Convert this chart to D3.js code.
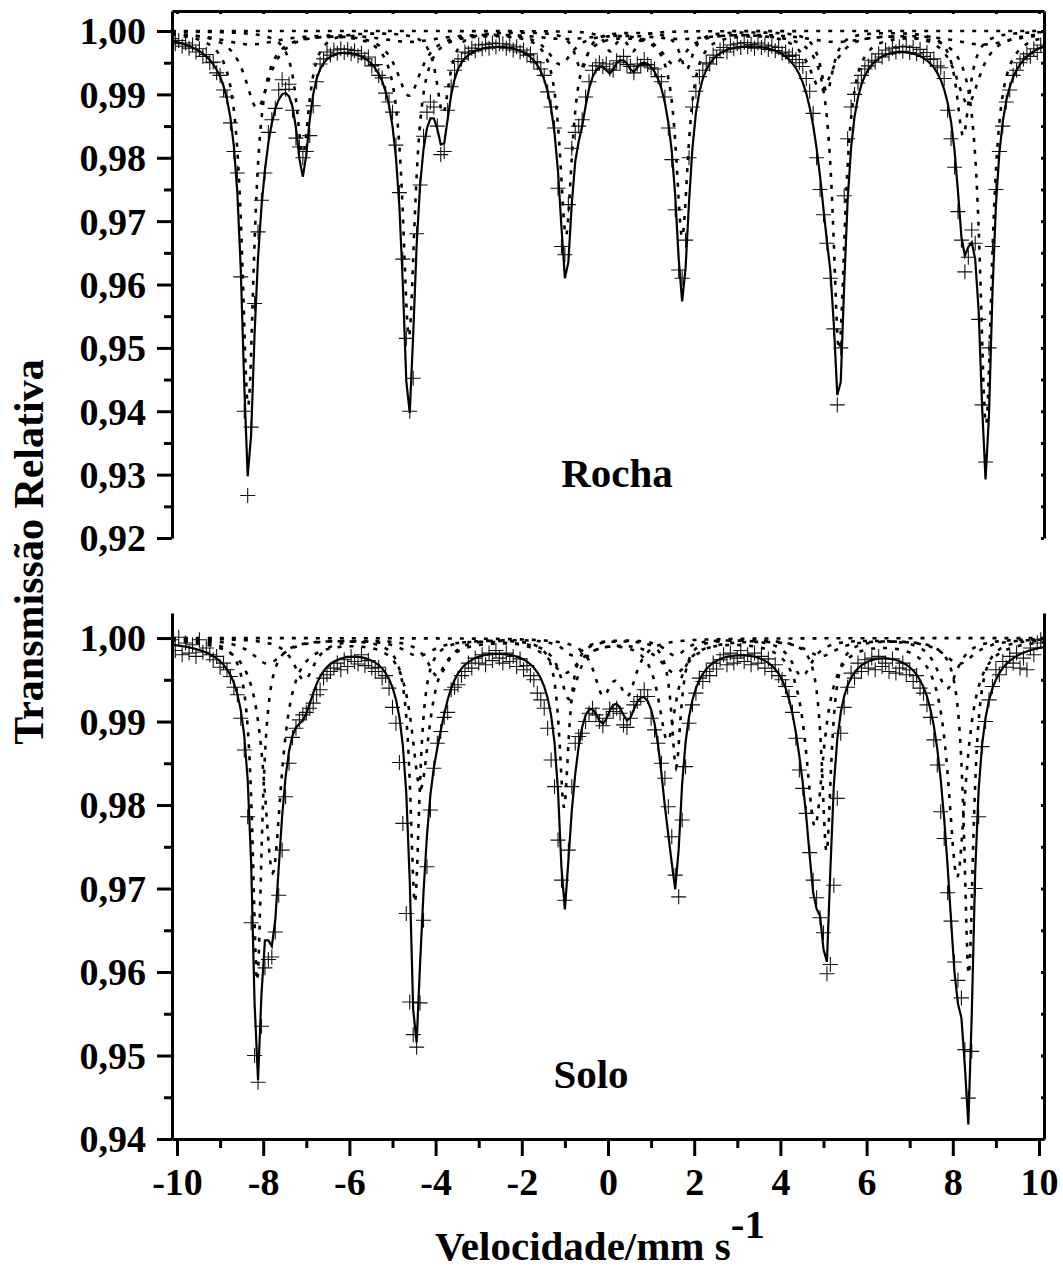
<!DOCTYPE html>
<html><head><meta charset="utf-8">
<script src="https://cdn.jsdelivr.net/npm/d3@7"></script>
<style>body{margin:0;background:#fff}</style>
</head><body>
<svg id="chart" width="1063" height="1270"></svg>
<script>
// ---------------- data ----------------
const velocityTicks = [-10,-8,-6,-4,-2,0,2,4,6,8,10];
const velocityMinorTicks = [-9,-7,-5,-3,-1,1,3,5,7,9];
const rochaTicks = [1.00,0.99,0.98,0.97,0.96,0.95,0.94,0.93,0.92];
const rochaMinorTicks = [0.995,0.985,0.975,0.965,0.955,0.945,0.935,0.925];
const soloTicks = [1.00,0.99,0.98,0.97,0.96,0.95,0.94];
const soloMinorTicks = [0.995,0.985,0.975,0.965,0.955,0.945];

// velocity channels of the spectrometer (mm/s): first channel and channel width
const channelStart = -10.12;
const channelWidth = 0.08;

// measured relative transmission, one value per channel
const rochaCounts = [
.9988,.9980,.9985,.9976,.9981,.9973,.9978,.9967,.9972,.9960,.9963,.9950,.9951,.9934,.9930,.9907,.9896,.9855,.9810,.9776,.9612,.9400,.9267,.9375,.9570,.9683,.9733,.9776,.9840,.9860,.9878,.9907,
.9923,.9908,.9916,.9875,.9831,.9817,.9800,.9810,.9835,.9882,.9920,.9948,.9956,.9967,.9962,.9970,.9965,.9972,.9966,.9971,.9964,.9969,.9961,.9965,.9956,.9959,.9945,.9947,.9930,.9926,.9902,.9888,
.9872,.9820,.9745,.9640,.9515,.9400,.9452,.9680,.9757,.9834,.9872,.9888,.9880,.9850,.9805,.9810,.9875,.9912,.9938,.9952,.9956,.9967,.9965,.9973,.9969,.9978,.9972,.9979,.9973,.9981,.9975,.9980,
.9980,.9973,.9978,.9970,.9975,.9967,.9970,.9962,.9964,.9952,.9950,.9940,.9930,.9904,.9880,.9847,.9752,.9660,.9647,.9726,.9815,.9840,.9850,.9860,.9896,.9920,.9938,.9945,.9950,.9944,.9948,.9940,
.9938,.9953,.9950,.9960,.9947,.9944,.9934,.9948,.9945,.9955,.9947,.9942,.9940,.9928,.9920,.9896,.9847,.9797,.9718,.9623,.9610,.9670,.9800,.9880,.9905,.9928,.9938,.9950,.9948,.9962,.9958,.9970,
.9974,.9967,.9978,.9972,.9980,.9974,.9982,.9975,.9979,.9973,.9981,.9974,.9978,.9971,.9976,.9969,.9974,.9965,.9967,.9960,.9962,.9955,.9950,.9944,.9925,.9905,.9870,.9800,.9750,.9710,.9665,.9610,
.9530,.9410,.9500,.9740,.9830,.9880,.9900,.9918,.9930,.9940,.9945,.9954,.9951,.9964,.9959,.9970,.9964,.9973,.9967,.9975,.9968,.9976,.9966,.9974,.9964,.9971,.9960,.9966,.9955,.9956,.9945,.9942,
.9925,.9875,.9830,.9785,.9715,.9670,.9620,.9643,.9686,.9665,.9545,.9410,.9320,.9500,.9660,.9750,.9810,.9850,.9888,.9907,.9930,.9938,.9950,.9956,.9964,.9960,.9972,.9966,.9978,.9973
];
const soloCounts = [
.9998,.9985,1.0001,.9980,.9994,.9982,.9992,.9978,.9998,.9983,.9988,.9980,.9974,.9978,.9965,.9970,.9962,.9954,.9941,.9932,.9904,.9866,.9786,.9659,.9500,.9468,.9535,.9605,.9615,.9618,.9648,.9692,
.9746,.9810,.9850,.9881,.9892,.9902,.9908,.9911,.9916,.9922,.9932,.9938,.9952,.9956,.9960,.9964,.9970,.9962,.9974,.9966,.9978,.9972,.9969,.9980,.9967,.9973,.9964,.9960,.9965,.9952,.9955,.9940,
.9917,.9898,.9851,.9778,.9670,.9564,.9525,.9510,.9563,.9662,.9726,.9794,.9844,.9874,.9888,.9905,.9911,.9938,.9941,.9944,.9955,.9960,.9970,.9964,.9976,.9970,.9980,.9968,.9982,.9973,.9985,.9976,
.9970,.9982,.9972,.9978,.9966,.9975,.9962,.9967,.9955,.9950,.9934,.9926,.9916,.9892,.9854,.9822,.9758,.9710,.9686,.9746,.9822,.9874,.9882,.9886,.9900,.9910,.9916,.9908,.9900,.9895,.9904,.9915,
.9912,.9916,.9910,.9896,.9893,.9904,.9920,.9924,.9930,.9938,.9930,.9904,.9890,.9874,.9850,.9832,.9798,.9762,.9716,.9690,.9782,.9846,.9898,.9920,.9934,.9952,.9948,.9960,.9955,.9970,.9963,.9974,
.9980,.9968,.9982,.9970,.9976,.9985,.9972,.9980,.9968,.9982,.9970,.9978,.9964,.9975,.9960,.9968,.9955,.9950,.9942,.9930,.9911,.9880,.9842,.9820,.9790,.9743,.9710,.9689,.9665,.9647,.9598,.9609,
.9704,.9808,.9886,.9917,.9941,.9958,.9952,.9970,.9960,.9974,.9964,.9976,.9962,.9978,.9966,.9970,.9960,.9975,.9958,.9964,.9970,.9956,.9962,.9948,.9955,.9940,.9934,.9920,.9905,.9878,.9848,.9792,
.9760,.9695,.9661,.9612,.9590,.9569,.9507,.9449,.9505,.9700,.9786,.9870,.9900,.9926,.9942,.9962,.9956,.9972,.9965,.9978,.9970,.9982,.9964,.9976,.9962,.9988,.9980,.9994,.9998,.9988
];

// fitted subspectra: line positions (mm/s), line depths, half widths (mm/s)
const rochaHemPos   = [-8.35,-4.62,-0.975,1.72,5.36,8.77];
const rochaHemDepth = [0.0591,0.048,0.032,0.0322,0.050,0.062];
const rochaHemWidth = 0.17;
const rochaS2Pos    = [-7.08,-3.83,-0.62,1.82,5.08,8.24];
const rochaS2Depth  = [0.0193,0.0129,0.006,0.006,0.0095,0.0165];
const rochaS2Width  = 0.18;
const rochaS3Pos    = [-8.14,-4.62,-1.11,1.53,4.95,8.35];
const rochaS3Depth  = [0.012,0.010,0.005,0.005,0.0091,0.0113];
const rochaS3Width  = 0.35;
const rochaBroadPos   = [-8.3,-4.6,-1.0,1.7,5.3,8.7];
const rochaBroadDepth = [0.002,0.0015,0.001,0.001,0.0015,0.002];
const rochaBroadWidth = 0.9;
const rochaDoubPos   = [0.05,0.58];
const rochaDoubDepth = [0.003,0.003];
const rochaDoubWidth = 0.15;

const soloAPos   = [-8.14,-4.48,-1.02,1.58,5.07,8.37];
const soloADepth = [0.041,0.0316,0.0202,0.0154,0.0256,0.0404];
const soloAWidth = 0.13;
const soloBPos   = [-7.78,-4.35,-0.9,1.38,4.8,8.1];
const soloBDepth = [0.028,0.0178,0.007,0.012,0.0223,0.0285];
const soloBWidth = 0.25;
const soloCPos   = [-7.05,-3.95,-0.8,1.56,4.5,7.87];
const soloCDepth = [0.005,0.0045,0.002,0.002,0.0045,0.006];
const soloCWidth = 0.3;
const soloDPos   = [-0.12,0.46];
const soloDDepth = [0.006,0.006];
const soloDWidth = 0.25;
const soloEPos   = [-7.9,-4.4,-1.0,1.56,4.95,8.15];
const soloEDepth = [0.003,0.002,0.004,0.004,0.002,0.003];
const soloEWidth = 0.45;

// ---------------- chart ----------------
const FONT = "'Liberation Serif','Times New Roman',serif";
const svg = d3.select("#chart");
const x = d3.scaleLinear().domain([-10.116,10.116]).range([172,1044]);
const yR = d3.scaleLinear().domain([0.92,1.00316]).range([538,11]);
const yS = d3.scaleLinear().domain([0.94,1.003]).range([1139,613]);
const fmt = d => d3.format(".2f")(d).replace(".",",");
const channelV = k => channelStart + channelWidth*k;

function comp(pos, depth, w){
  return v => d3.sum(pos, (p,i) => depth[i]*w*w/((v-p)*(v-p)+w*w));
}

function drawPanel(id, y, comps, counts, top, bottom){
  const g = svg.append("g");
  g.append("clipPath").attr("id","clip"+id).append("rect")
    .attr("x",172).attr("y",top).attr("width",872).attr("height",bottom-top);
  const plot = g.append("g").attr("clip-path",`url(#clip${id})`);
  const line = d3.line().x(d=>x(d[0])).y(d=>y(d[1]));
  const fine = d3.range(-10.12,10.121,0.02);
  comps.forEach(f=>{
    plot.append("path").datum(fine.map(v=>[v,1-f(v)]))
      .attr("d",line).attr("fill","none").attr("stroke","#000")
      .attr("stroke-width",2.6).attr("stroke-dasharray","4,8");
  });
  // measured points
  const pts = counts.map((t,k)=>[channelV(k),t]);
  plot.append("path")
    .attr("d", pts.map(d=>{const px=x(d[0]),py=y(d[1]);
      return `M${px-7.5},${py}h15M${px},${py-7.5}v15`;}).join(""))
    .attr("fill","none").attr("stroke","#111").attr("stroke-width",1.1);
  // fit (sum of subspectra)
  plot.append("path").datum(counts.map((t,k)=>{const v=channelV(k);return [v,1-d3.sum(comps,f=>f(v))];}))
    .attr("d",line).attr("fill","none").attr("stroke","#000").attr("stroke-width",2.2);
}

const rochaComps = [
  comp(rochaHemPos,rochaHemDepth,rochaHemWidth),
  comp(rochaS2Pos,rochaS2Depth,rochaS2Width),
  comp(rochaS3Pos,rochaS3Depth,rochaS3Width),
  comp(rochaBroadPos,rochaBroadDepth,rochaBroadWidth),
  comp(rochaDoubPos,rochaDoubDepth,rochaDoubWidth)
];
const soloComps = [
  comp(soloAPos,soloADepth,soloAWidth),
  comp(soloBPos,soloBDepth,soloBWidth),
  comp(soloCPos,soloCDepth,soloCWidth),
  comp(soloDPos,soloDDepth,soloDWidth),
  comp(soloEPos,soloEDepth,soloEWidth)
];
drawPanel("R", yR, rochaComps, rochaCounts, 11, 538);
drawPanel("S", yS, soloComps, soloCounts, 613, 1139);

// axes
function styleAxis(sel){
  sel.selectAll("path,line").attr("stroke","#000").attr("stroke-width",3);
  sel.selectAll("text").attr("font-family",FONT).attr("font-weight","bold")
     .attr("font-size",38).attr("fill","#000");
}
function leftAxis(y, ticks, minor){
  svg.append("g").attr("transform","translate(172,0)")
    .call(d3.axisLeft(y).tickValues(ticks).tickSize(15).tickSizeOuter(0).tickPadding(11).tickFormat(fmt))
    .call(styleAxis).call(s=>s.selectAll("text").attr("dy","0.34em"));
  svg.append("g").attr("transform","translate(172,0)")
    .call(d3.axisLeft(y).tickValues(minor).tickSize(8).tickSizeOuter(0).tickFormat(""))
    .call(styleAxis).call(s=>s.select(".domain").remove());
  svg.append("g").attr("transform","translate(1044,0)")
    .call(d3.axisLeft(y).tickValues(ticks.concat(minor)).tickSize(3).tickSizeOuter(0).tickFormat(""))
    .call(styleAxis);
}
leftAxis(yR, rochaTicks, rochaMinorTicks);
leftAxis(yS, soloTicks, soloMinorTicks);

svg.append("g").attr("transform","translate(0,11)")
  .call(d3.axisBottom(x).tickValues(velocityTicks.concat(velocityMinorTicks)).tickSize(3).tickSizeOuter(0).tickFormat(""))
  .call(styleAxis);

svg.append("g").attr("transform","translate(0,1139)")
  .call(d3.axisBottom(x).tickValues(velocityTicks).tickSize(17).tickSizeOuter(0).tickPadding(12).tickFormat(d=>d))
  .call(styleAxis);
svg.append("g").attr("transform","translate(0,1139)")
  .call(d3.axisBottom(x).tickValues(velocityMinorTicks).tickSize(9).tickSizeOuter(0).tickFormat(""))
  .call(styleAxis).call(s=>s.select(".domain").remove());

// titles
const txt = (xx,yy,s,size,anchor)=>svg.append("text").attr("x",xx).attr("y",yy)
  .attr("font-family",FONT).attr("font-weight","bold").attr("font-size",size)
  .attr("text-anchor",anchor||"middle").attr("fill","#000").text(s);
txt(617,487,"Rocha",41);
txt(591,1088,"Solo",41);
svg.append("text").attr("transform","translate(43,552) rotate(-90)")
  .attr("font-family",FONT).attr("font-weight","bold").attr("font-size",42)
  .attr("text-anchor","middle").attr("fill","#000").text("Transmissão Relativa");
const xt = txt(435,1260,"Velocidade/mm s",41,"start");
xt.append("tspan").attr("dy",-22).text("-1");
</script>
</body></html>
